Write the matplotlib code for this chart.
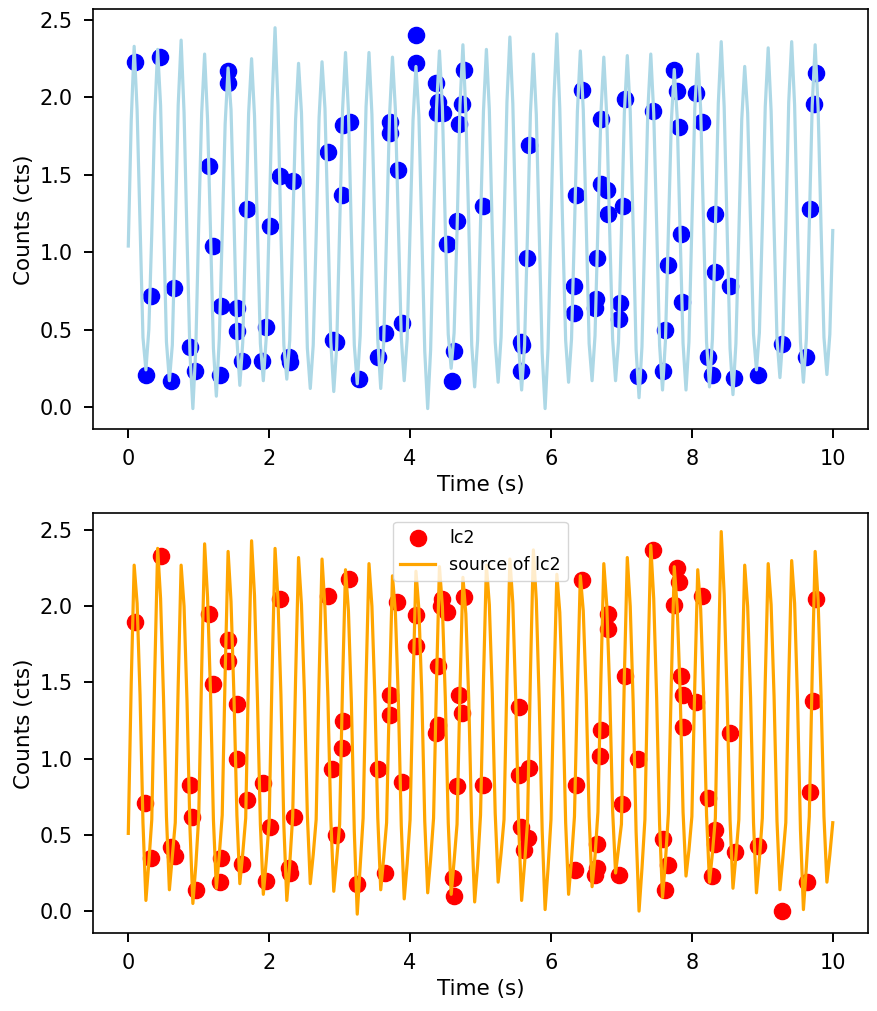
import numpy as np
import matplotlib
matplotlib.use("Agg")
import matplotlib.pyplot as plt

# -------- Sampled light curves (read off the reference) --------
# source curves are listed cycle by cycle, 8 samples per 1/3 s cycle
src1_vals = [
    1.04, 1.85, 2.33, 1.92, 1.18, 0.45, 0.24, 0.50,
    1.12, 1.88, 2.31, 1.95, 1.20, 0.42, 0.17, 0.40,
    1.15, 1.95, 2.37, 1.90, 1.10, 0.35, -0.01, 0.38,
    1.18, 1.90, 2.28, 1.86, 1.14, 0.38, 0.07, 0.44,
    1.12, 1.83, 2.19, 1.92, 1.22, 0.44, 0.14, 0.42,
    1.16, 1.90, 2.25, 1.88, 1.15, 0.41, 0.17, 0.45,
    1.20, 1.98, 2.45, 1.95, 1.12, 0.40, 0.18, 0.43,
    1.14, 1.86, 2.22, 1.90, 1.18, 0.38, 0.12, 0.40,
    1.10, 1.87, 2.23, 1.93, 1.20, 0.42, 0.10, 0.39,
    1.16, 1.92, 2.29, 1.91, 1.13, 0.40, 0.15, 0.46,
    1.18, 1.94, 2.29, 1.89, 1.15, 0.43, 0.12, 0.41,
    1.13, 1.88, 2.26, 1.92, 1.19, 0.45, 0.17, 0.44,
    1.15, 1.85, 2.20, 1.88, 1.12, 0.36, -0.01, 0.37,
    1.17, 1.93, 2.30, 1.94, 1.16, 0.47, 0.25, 0.48,
    1.14, 1.95, 2.34, 1.90, 1.18, 0.40, 0.13, 0.43,
    1.19, 1.91, 2.31, 1.92, 1.14, 0.42, 0.16, 0.45,
    1.16, 1.97, 2.39, 1.96, 1.17, 0.39, 0.11, 0.40,
    1.12, 1.90, 2.28, 1.89, 1.13, 0.35, -0.01, 0.38,
    1.18, 1.99, 2.41, 1.93, 1.15, 0.43, 0.16, 0.44,
    1.15, 1.91, 2.30, 1.92, 1.19, 0.41, 0.17, 0.46,
    1.17, 1.89, 2.26, 1.88, 1.14, 0.44, 0.17, 0.42,
    1.13, 1.90, 2.27, 1.91, 1.16, 0.37, 0.06, 0.39,
    1.16, 1.92, 2.28, 1.90, 1.18, 0.40, 0.11, 0.43,
    1.14, 1.84, 2.18, 1.87, 1.12, 0.41, 0.11, 0.42,
    1.18, 1.93, 2.28, 1.92, 1.17, 0.42, 0.13, 0.44,
    1.15, 1.96, 2.36, 1.94, 1.15, 0.38, 0.08, 0.41,
    1.12, 1.86, 2.20, 1.90, 1.19, 0.47, 0.24, 0.48,
    1.17, 1.94, 2.32, 1.91, 1.16, 0.44, 0.19, 0.45,
    1.16, 1.97, 2.36, 1.95, 1.14, 0.42, 0.16, 0.44,
    1.18, 1.95, 2.34, 1.93, 1.17, 0.45, 0.21, 0.47,
    1.14,
]

src2_vals = [
    0.51, 1.50, 2.27, 2.02, 1.42, 0.58, 0.07, 0.32,
    0.60, 1.55, 2.38, 2.05, 1.40, 0.62, 0.14, 0.36,
    0.58, 1.48, 2.27, 2.00, 1.38, 0.55, 0.05, 0.30,
    0.62, 1.58, 2.41, 2.06, 1.44, 0.60, 0.15, 0.37,
    0.63, 1.56, 2.36, 2.03, 1.41, 0.63, 0.18, 0.38,
    0.61, 1.60, 2.43, 2.07, 1.39, 0.57, 0.11, 0.33,
    0.59, 1.57, 2.38, 2.04, 1.42, 0.56, 0.07, 0.31,
    0.62, 1.53, 2.32, 2.01, 1.43, 0.63, 0.18, 0.37,
    0.60, 1.52, 2.31, 1.99, 1.40, 0.60, 0.13, 0.34,
    0.57, 1.49, 2.24, 1.97, 1.37, 0.52, -0.02, 0.29,
    0.61, 1.51, 2.28, 2.00, 1.41, 0.61, 0.14, 0.35,
    0.58, 1.46, 2.20, 1.96, 1.39, 0.56, 0.08, 0.31,
    0.60, 1.48, 2.23, 1.98, 1.42, 0.59, 0.12, 0.34,
    0.61, 1.50, 2.26, 2.00, 1.40, 0.58, 0.11, 0.33,
    0.57, 1.45, 2.19, 1.95, 1.38, 0.55, 0.06, 0.30,
    0.63, 1.51, 2.27, 2.01, 1.43, 0.64, 0.19, 0.38,
    0.60, 1.53, 2.31, 2.02, 1.39, 0.56, 0.07, 0.31,
    0.58, 1.56, 2.37, 2.04, 1.37, 0.53, 0.01, 0.28,
    0.60, 1.47, 2.21, 1.96, 1.40, 0.58, 0.11, 0.34,
    0.62, 1.46, 2.20, 1.97, 1.42, 0.62, 0.16, 0.36,
    0.65, 1.52, 2.28, 2.01, 1.45, 0.66, 0.25, 0.41,
    0.57, 1.54, 2.32, 2.00, 1.37, 0.52, 0.00, 0.28,
    0.60, 1.58, 2.40, 2.05, 1.40, 0.57, 0.09, 0.33,
    0.64, 1.50, 2.26, 1.99, 1.44, 0.65, 0.23, 0.40,
    0.62, 1.49, 2.24, 1.98, 1.42, 0.63, 0.19, 0.38,
    0.61, 1.62, 2.49, 2.08, 1.41, 0.60, 0.15, 0.36,
    0.60, 1.50, 2.27, 2.00, 1.40, 0.58, 0.12, 0.34,
    0.61, 1.51, 2.28, 2.01, 1.41, 0.59, 0.14, 0.35,
    0.58, 1.52, 2.30, 2.02, 1.38, 0.53, 0.01, 0.29,
    0.62, 1.56, 2.36, 2.04, 1.42, 0.62, 0.19, 0.37,
    0.58,
]

# sampled points (lc1 = blue, lc2 = red)
lc1_time = [
    0.09, 0.45, 0.25, 0.32, 0.60, 0.65, 0.88, 0.95, 1.15, 1.20,
    1.30, 1.32, 1.41, 1.41, 1.54, 1.55, 1.62, 1.68, 1.90, 1.96,
    2.01, 2.16, 2.28, 2.29, 2.34, 2.83, 2.90, 2.95, 3.03, 3.05,
    3.15, 3.27, 3.55, 3.64, 3.72, 3.72, 3.83, 3.89, 4.09, 4.08,
    4.37, 4.40, 4.47, 4.38, 4.52, 4.63, 4.60, 4.67, 4.69, 4.73,
    4.77, 5.03, 5.57, 5.59, 5.57, 5.66, 5.69, 6.33, 6.33, 6.36,
    6.44, 6.64, 6.63, 6.65, 6.71, 6.71, 6.79, 6.81, 6.98, 6.97,
    7.02, 7.05, 7.24, 7.45, 7.59, 7.62, 7.66, 7.75, 7.79, 7.82,
    7.85, 7.86, 8.06, 8.15, 8.23, 8.29, 8.33, 8.33, 8.54, 8.60,
    8.94, 9.28, 9.62, 9.68, 9.73, 9.76,
]
lc1_counts = [
    2.23, 2.26, 0.21, 0.72, 0.17, 0.77, 0.39, 0.23, 1.56, 1.04,
    0.21, 0.65, 2.17, 2.09, 0.64, 0.49, 0.30, 1.28, 0.30, 0.52,
    1.17, 1.49, 0.32, 0.29, 1.46, 1.65, 0.43, 0.42, 1.37, 1.82,
    1.84, 0.18, 0.32, 0.48, 1.84, 1.77, 1.53, 0.54, 2.40, 2.22,
    2.09, 1.97, 1.90, 1.90, 1.05, 0.36, 0.17, 1.20, 1.83, 1.96,
    2.18, 1.30, 0.42, 0.40, 0.23, 0.96, 1.69, 0.61, 0.78, 1.37,
    2.05, 0.70, 0.64, 0.96, 1.86, 1.44, 1.40, 1.25, 0.67, 0.57,
    1.30, 1.99, 0.20, 1.91, 0.23, 0.50, 0.92, 2.18, 2.04, 1.81,
    1.12, 0.68, 2.03, 1.84, 0.32, 0.21, 1.25, 0.87, 0.78, 0.19,
    0.21, 0.41, 0.32, 1.28, 1.96, 2.16,
]

lc2_time = [
    0.09, 0.46, 0.24, 0.32, 0.60, 0.66, 0.88, 0.90, 0.96, 1.15,
    1.20, 1.30, 1.32, 1.41, 1.41, 1.54, 1.55, 1.62, 1.68, 1.91,
    1.96, 2.01, 2.16, 2.28, 2.29, 2.35, 2.83, 2.89, 2.95, 3.03,
    3.05, 3.13, 3.25, 3.55, 3.64, 3.72, 3.72, 3.82, 3.89, 4.09,
    4.08, 4.40, 4.46, 4.52, 4.44, 4.39, 4.37, 4.61, 4.63, 4.67,
    4.70, 4.73, 4.77, 5.03, 5.55, 5.55, 5.69, 5.58, 5.68, 5.61,
    6.34, 6.36, 6.44, 6.65, 6.66, 6.62, 6.71, 6.70, 6.81, 6.81,
    7.05, 7.01, 6.97, 7.23, 7.45, 7.59, 7.66, 7.62, 7.79, 7.82,
    7.75, 7.85, 7.87, 7.88, 8.06, 8.15, 8.23, 8.33, 8.33, 8.29,
    8.54, 8.61, 8.94, 9.28, 9.63, 9.68, 9.72, 9.76,
]
lc2_counts = [
    1.90, 2.33, 0.71, 0.35, 0.42, 0.36, 0.83, 0.62, 0.14, 1.95,
    1.49, 0.19, 0.35, 1.78, 1.64, 1.36, 1.00, 0.31, 0.73, 0.84,
    0.20, 0.55, 2.05, 0.28, 0.25, 0.62, 2.07, 0.93, 0.50, 1.07,
    1.25, 2.18, 0.18, 0.93, 0.25, 1.42, 1.29, 2.03, 0.85, 1.94,
    1.74, 1.61, 2.05, 1.96, 2.00, 1.22, 1.17, 0.22, 0.10, 0.82,
    1.42, 1.30, 2.06, 0.83, 1.34, 0.89, 0.94, 0.55, 0.48, 0.40,
    0.27, 0.83, 2.17, 0.44, 0.28, 0.24, 1.19, 1.02, 1.95, 1.85,
    1.54, 0.70, 0.24, 1.00, 2.37, 0.47, 0.30, 0.14, 2.25, 2.16,
    2.01, 1.54, 1.42, 1.21, 1.37, 2.07, 0.74, 0.53, 0.44, 0.23,
    1.17, 0.39, 0.43, 0.00, 0.19, 0.78, 1.38, 2.05,
]

# time grid of the source curves (0 to 10 s, 8 samples per cycle)
src_time = np.linspace(0, 10, len(src1_vals))

# -------- Plot --------
plt.rcParams["font.family"] = "DejaVu Sans"

fig, axes = plt.subplots(2, 1, figsize=(8.78, 10.11), dpi=100)
fig.subplots_adjust(left=0.106, right=0.9886, top=0.9908, bottom=0.0768, hspace=0.2)

ax = axes[0]
ax.scatter(lc1_time, lc1_counts, s=135, color="blue", label="lc1")
ax.plot(src_time, src1_vals, color="lightblue", lw=2.3, label="source of lc1")
ax.set_ylim(-0.144, 2.569)

ax = axes[1]
ax.scatter(lc2_time, lc2_counts, s=135, color="red", label="lc2")
ax.plot(src_time, src2_vals, color="orange", lw=2.3, label="source of lc2")
ax.set_ylim(-0.146, 2.61)
ax.legend(loc="upper center", fontsize=12.5)

for ax in axes:
    ax.set_xlim(-0.5, 10.5)
    ax.set_xticks([0, 2, 4, 6, 8, 10])
    ax.set_yticks([0.0, 0.5, 1.0, 1.5, 2.0, 2.5])
    ax.set_xlabel("Time (s)", fontsize=15.5)
    ax.set_ylabel("Counts (cts)", fontsize=15.5)
    ax.tick_params(labelsize=15, length=6.5, width=1.4, pad=8)
    for sp in ax.spines.values():
        sp.set_linewidth(1.2)

fig.savefig("out.png", dpi=100)
